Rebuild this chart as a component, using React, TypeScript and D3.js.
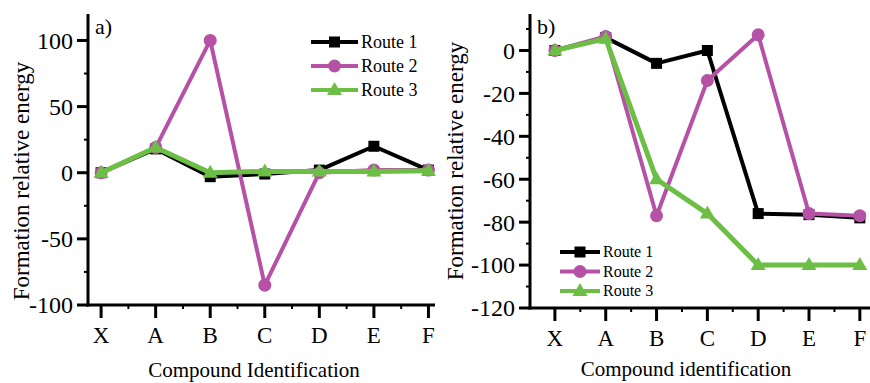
import React from "react";
import * as d3 from "d3";

const categories = ["X", "A", "B", "C", "D", "E", "F"];
const routeNames = ["Route 1", "Route 2", "Route 3"];

// panel a)
const aRoute1 = [0, 18, -3, -1, 2, 20, 2];
const aRoute2 = [0, 19, 100, -85, 0, 2, 2];
const aRoute3 = [0, 19, 0, 1, 1, 1, 1.5];
const aTicks = [-100, -50, 0, 50, 100];

// panel b)
const bRoute1 = [0, 6, -6, 0, -76, -76.5, -78];
const bRoute2 = [0, 6.5, -77, -14, 7.3, -76, -77];
const bRoute3 = [0, 5.5, -60, -76, -100, -100, -100];
const bTicks = [-120, -100, -80, -60, -40, -20, 0];

const colors = ["#000000", "#b552a5", "#6cbe45"];
const widths = [4, 4, 5];
const font = "'Liberation Serif', 'Times New Roman', serif";

function Marker({ kind, x, y, color }) {
  if (kind === 0) return <rect x={x - 5.5} y={y - 5.5} width={11} height={11} fill={color} />;
  if (kind === 1) return <circle cx={x} cy={y} r={6.5} fill={color} />;
  return <path d={`M${x},${y - 8}L${x + 7.5},${y + 5}L${x - 7.5},${y + 5}Z`} fill={color} />;
}

function Panel({ series, ticks, minorStep, xDomain, xRange, yDomain, yRange, tag, xTitle, xTitleX, xTitleY, yTitleX, yTitleY, legend }) {
  const x = d3.scaleLinear().domain(xDomain).range(xRange);
  const y = d3.scaleLinear().domain(yDomain).range(yRange);
  const line = d3.line<number>().x((_, i) => x(i)).y(d => y(d));
  const x0 = xRange[0];
  const y0 = yRange[0];
  const minors = d3.range(ticks[0] + minorStep, yDomain[1], minorStep).filter(v => !ticks.includes(v));
  return (
    <g>
      {/* axes */}
      <line x1={x0} x2={x0} y1={yRange[1]} y2={y0 + 1.5} stroke="#000" strokeWidth={3} />
      <line x1={x0 - 1.5} x2={xRange[1]} y1={y0} y2={y0} stroke="#000" strokeWidth={3} />
      {ticks.map(t => (
        <g key={t}>
          <line x1={x0 - 11} x2={x0} y1={y(t)} y2={y(t)} stroke="#000" strokeWidth={3} />
          <text x={x0 - 15} y={y(t)} dy="0.35em" textAnchor="end" fontSize={24} fontFamily={font}>
            {t}
          </text>
        </g>
      ))}
      {minors.map(t => (
        <line key={"m" + t} x1={x0 - 4} x2={x0} y1={y(t)} y2={y(t)} stroke="#000" strokeWidth={2} />
      ))}
      {categories.map((c, i) => (
        <g key={c}>
          <line x1={x(i)} x2={x(i)} y1={y0} y2={y0 + 13} stroke="#000" strokeWidth={3} />
          <text x={x(i)} y={y0 + 38} textAnchor="middle" fontSize={23} fontFamily={font}>
            {c}
          </text>
        </g>
      ))}
      {categories.slice(0, -1).map((c, i) => (
        <line key={"mx" + c} x1={x(i + 0.5)} x2={x(i + 0.5)} y1={y0} y2={y0 + 4} stroke="#000" strokeWidth={2} />
      ))}
      <text x={xTitleX} y={xTitleY} textAnchor="middle" fontSize={21} fontFamily={font}>
        {xTitle}
      </text>
      <text
        transform={`translate(${yTitleX},${yTitleY}) rotate(-90)`}
        textAnchor="middle"
        fontSize={23}
        fontFamily={font}
      >
        Formation relative energy
      </text>
      <text x={x0 + 7} y={yRange[1] + 20} fontSize={22} fontFamily={font}>
        {tag}
      </text>
      {/* lines */}
      {series.map((s, k) => (
        <g key={k}>
          <path d={line(s)} fill="none" stroke={colors[k]} strokeWidth={widths[k]} strokeLinejoin="round" />
          {s.map((v, i) => (
            <Marker key={i} kind={k} x={x(i)} y={y(v)} color={colors[k]} />
          ))}
        </g>
      ))}
      {/* legend */}
      {routeNames.map((n, k) => {
        const ly = legend.y + k * legend.dy;
        return (
          <g key={n}>
            <line x1={legend.x} x2={legend.x + legend.w} y1={ly} y2={ly} stroke={colors[k]} strokeWidth={4} />
            <Marker kind={k} x={legend.x + legend.w / 2} y={ly} color={colors[k]} />
            <text x={legend.x + legend.w + 3} y={ly} dy="0.33em" fontSize={legend.fs} fontFamily={font}>
              {n}
            </text>
          </g>
        );
      })}
    </g>
  );
}

export default function App() {
  return (
    <svg width={870} height={383} style={{ position: "absolute", left: 0, top: 0, background: "#fff" }}>
      <Panel
        series={[aRoute1, aRoute2, aRoute3]}
        ticks={aTicks}
        minorStep={25}
        xDomain={[-0.24, 6.12]}
        xRange={[88, 435]}
        yDomain={[-100, 120]}
        yRange={[305, 14]}
        tag="a)"
        xTitle="Compound Identification"
        xTitleX={254}
        xTitleY={377}
        yTitleX={29}
        yTitleY={181}
        legend={{ x: 311, y: 42, dy: 24, w: 47, fs: 18 }}
      />
      <Panel
        series={[bRoute1, bRoute2, bRoute3]}
        ticks={bTicks}
        minorStep={10}
        xDomain={[-0.49, 6.2]}
        xRange={[530, 870]}
        yDomain={[-120, 17]}
        yRange={[308, 14]}
        tag="b)"
        xTitle="Compound identification"
        xTitleX={686}
        xTitleY={376}
        yTitleX={463}
        yTitleY={161}
        legend={{ x: 560, y: 252, dy: 19.5, w: 40, fs: 16 }}
      />
    </svg>
  );
}
